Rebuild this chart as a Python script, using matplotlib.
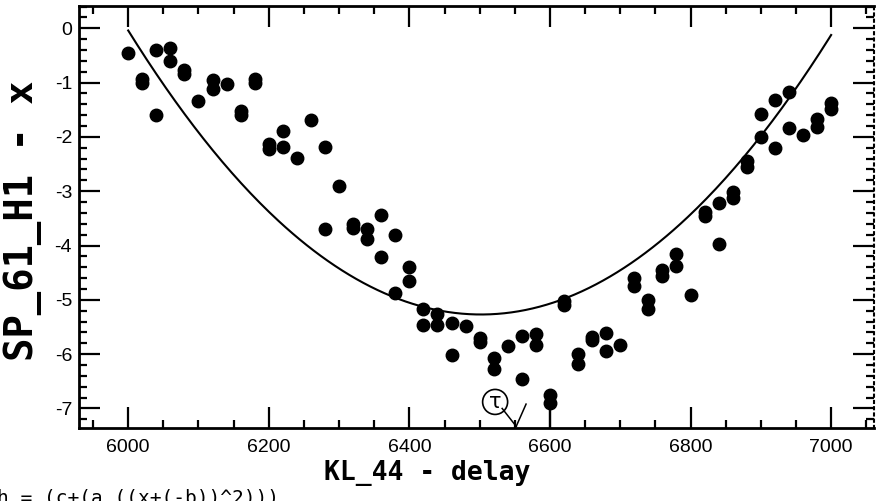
import numpy as np
import matplotlib
matplotlib.use("Agg")
import matplotlib.pyplot as plt
from matplotlib.ticker import MultipleLocator

plt.rcParams['axes.unicode_minus'] = False

# ---- data ----
delay = [6000, 6020, 6020, 6040, 6040, 6060, 6060, 6080, 6080, 6100, 6120, 6120,
         6140, 6160, 6160, 6180, 6180, 6200, 6200, 6220, 6220, 6240, 6260,
         6280, 6280, 6300, 6320, 6320, 6340, 6340, 6360, 6360, 6380, 6380,
         6400, 6400, 6420, 6420, 6440, 6440, 6460, 6460, 6480, 6500, 6500,
         6520, 6520, 6540, 6560, 6560, 6580, 6580, 6600, 6600, 6620, 6620,
         6640, 6640, 6660, 6660, 6680, 6680, 6700, 6720, 6720, 6740, 6740,
         6760, 6760, 6780, 6780, 6800, 6820, 6820, 6840, 6840, 6860, 6860,
         6880, 6880, 6900, 6900, 6920, 6920, 6940, 6940, 6960, 6980, 6980,
         7000, 7000]
sp_x = [-0.45, -0.93, -1.00, -0.40, -1.59, -0.37, -0.61, -0.76, -0.84, -1.34,
        -0.96, -1.11, -1.03, -1.52, -1.60, -0.93, -1.01, -2.13, -2.22, -1.89,
        -2.18, -2.38, -1.69, -2.18, -3.70, -2.90, -3.60, -3.68, -3.69, -3.88,
        -3.44, -4.22, -3.80, -4.88, -4.39, -4.65, -5.17, -5.47, -5.26, -5.47,
        -5.43, -6.02, -5.49, -5.70, -5.78, -6.08, -6.27, -5.85, -5.66, -6.46,
        -5.63, -5.84, -6.76, -6.90, -5.02, -5.10, -5.99, -6.18, -5.68, -5.74,
        -5.61, -5.94, -5.84, -4.60, -4.74, -5.00, -5.17, -4.45, -4.56, -4.16,
        -4.37, -4.91, -3.38, -3.46, -3.22, -3.98, -3.02, -3.12, -2.45, -2.56,
        -1.57, -2.01, -1.32, -2.20, -1.18, -1.84, -1.97, -1.67, -1.81, -1.38,
        -1.48]

# fit parameters of h = (c+(a ((x+(-b))^2)))
fit_a = 2.075e-5
fit_b = 6502.0
fit_c = -5.27

x_ticks = [6000, 6200, 6400, 6600, 6800, 7000]
y_ticks = [0, -1, -2, -3, -4, -5, -6, -7]

# ---- figure ----
fig = plt.figure(figsize=(8.76, 5.01), dpi=100)
ax = fig.add_axes([79/876, 1-428/501, (874-79)/876, (428-6)/501])

xf = np.linspace(6000, 7000, 300)
ax.plot(xf, fit_c + fit_a * (xf - fit_b) ** 2, color='black', lw=1.5, zorder=2)
ax.plot(delay, sp_x, 'o', color='black', ms=9, mec='black', zorder=3)

# stem under the marked point
ax.plot([delay[52], delay[52]], [-7.36, sp_x[53]], color='black', lw=1.6, zorder=2)

ax.set_xlim(5930, 7061)
ax.set_ylim(-7.36, 0.41)

ax.set_xticks(x_ticks)
ax.set_xticklabels([str(v) for v in x_ticks])
ax.set_yticks(y_ticks)
ax.set_yticklabels([str(v) for v in y_ticks])
ax.xaxis.set_minor_locator(MultipleLocator(50))
ax.yaxis.set_minor_locator(MultipleLocator(0.2))

ax.tick_params(which='both', direction='in', top=True, right=True, width=1.6,
               labelsize=14, colors='black')
ax.tick_params(which='major', length=15)
ax.tick_params(which='minor', length=6)
ax.tick_params(axis='x', which='major', pad=8)
ax.tick_params(axis='y', which='major', pad=5)
for lab in ax.get_xticklabels() + ax.get_yticklabels():
    lab.set_fontfamily('Liberation Sans')

for side in ['left', 'bottom', 'top']:
    ax.spines[side].set_linewidth(2.0)
ax.spines['right'].set_linewidth(1.5)
ax.spines['right'].set_linestyle((0, (1, 2)))

ax.set_xlabel('KL_44 - delay', fontfamily='DejaVu Sans Mono', fontweight='bold',
              fontsize=19)
ax.xaxis.set_label_coords(0.438, -0.075)
ax.set_ylabel('SP_61_H1 - x', fontfamily='DejaVu Sans Mono', fontweight='bold',
              fontsize=28)
ax.yaxis.set_label_coords(-0.047, 0.49)

# hand-drawn annotation
ax.text(6522, -6.88, 'τ', fontsize=15, ha='center', va='center',
        bbox=dict(boxstyle='circle,pad=0.12', fc='none', ec='black', lw=1.2))
ax.plot([6532, 6552], [-7.0, -7.33], color='black', lw=1.1)
ax.plot([6566, 6552], [-6.92, -7.33], color='black', lw=1.1)

fig.text(-0.003, -0.004, 'h = (c+(a ((x+(-b))^2)))', fontfamily='DejaVu Sans Mono',
         fontsize=14, ha='left', va='baseline')

fig.savefig('out.png', dpi=100)
